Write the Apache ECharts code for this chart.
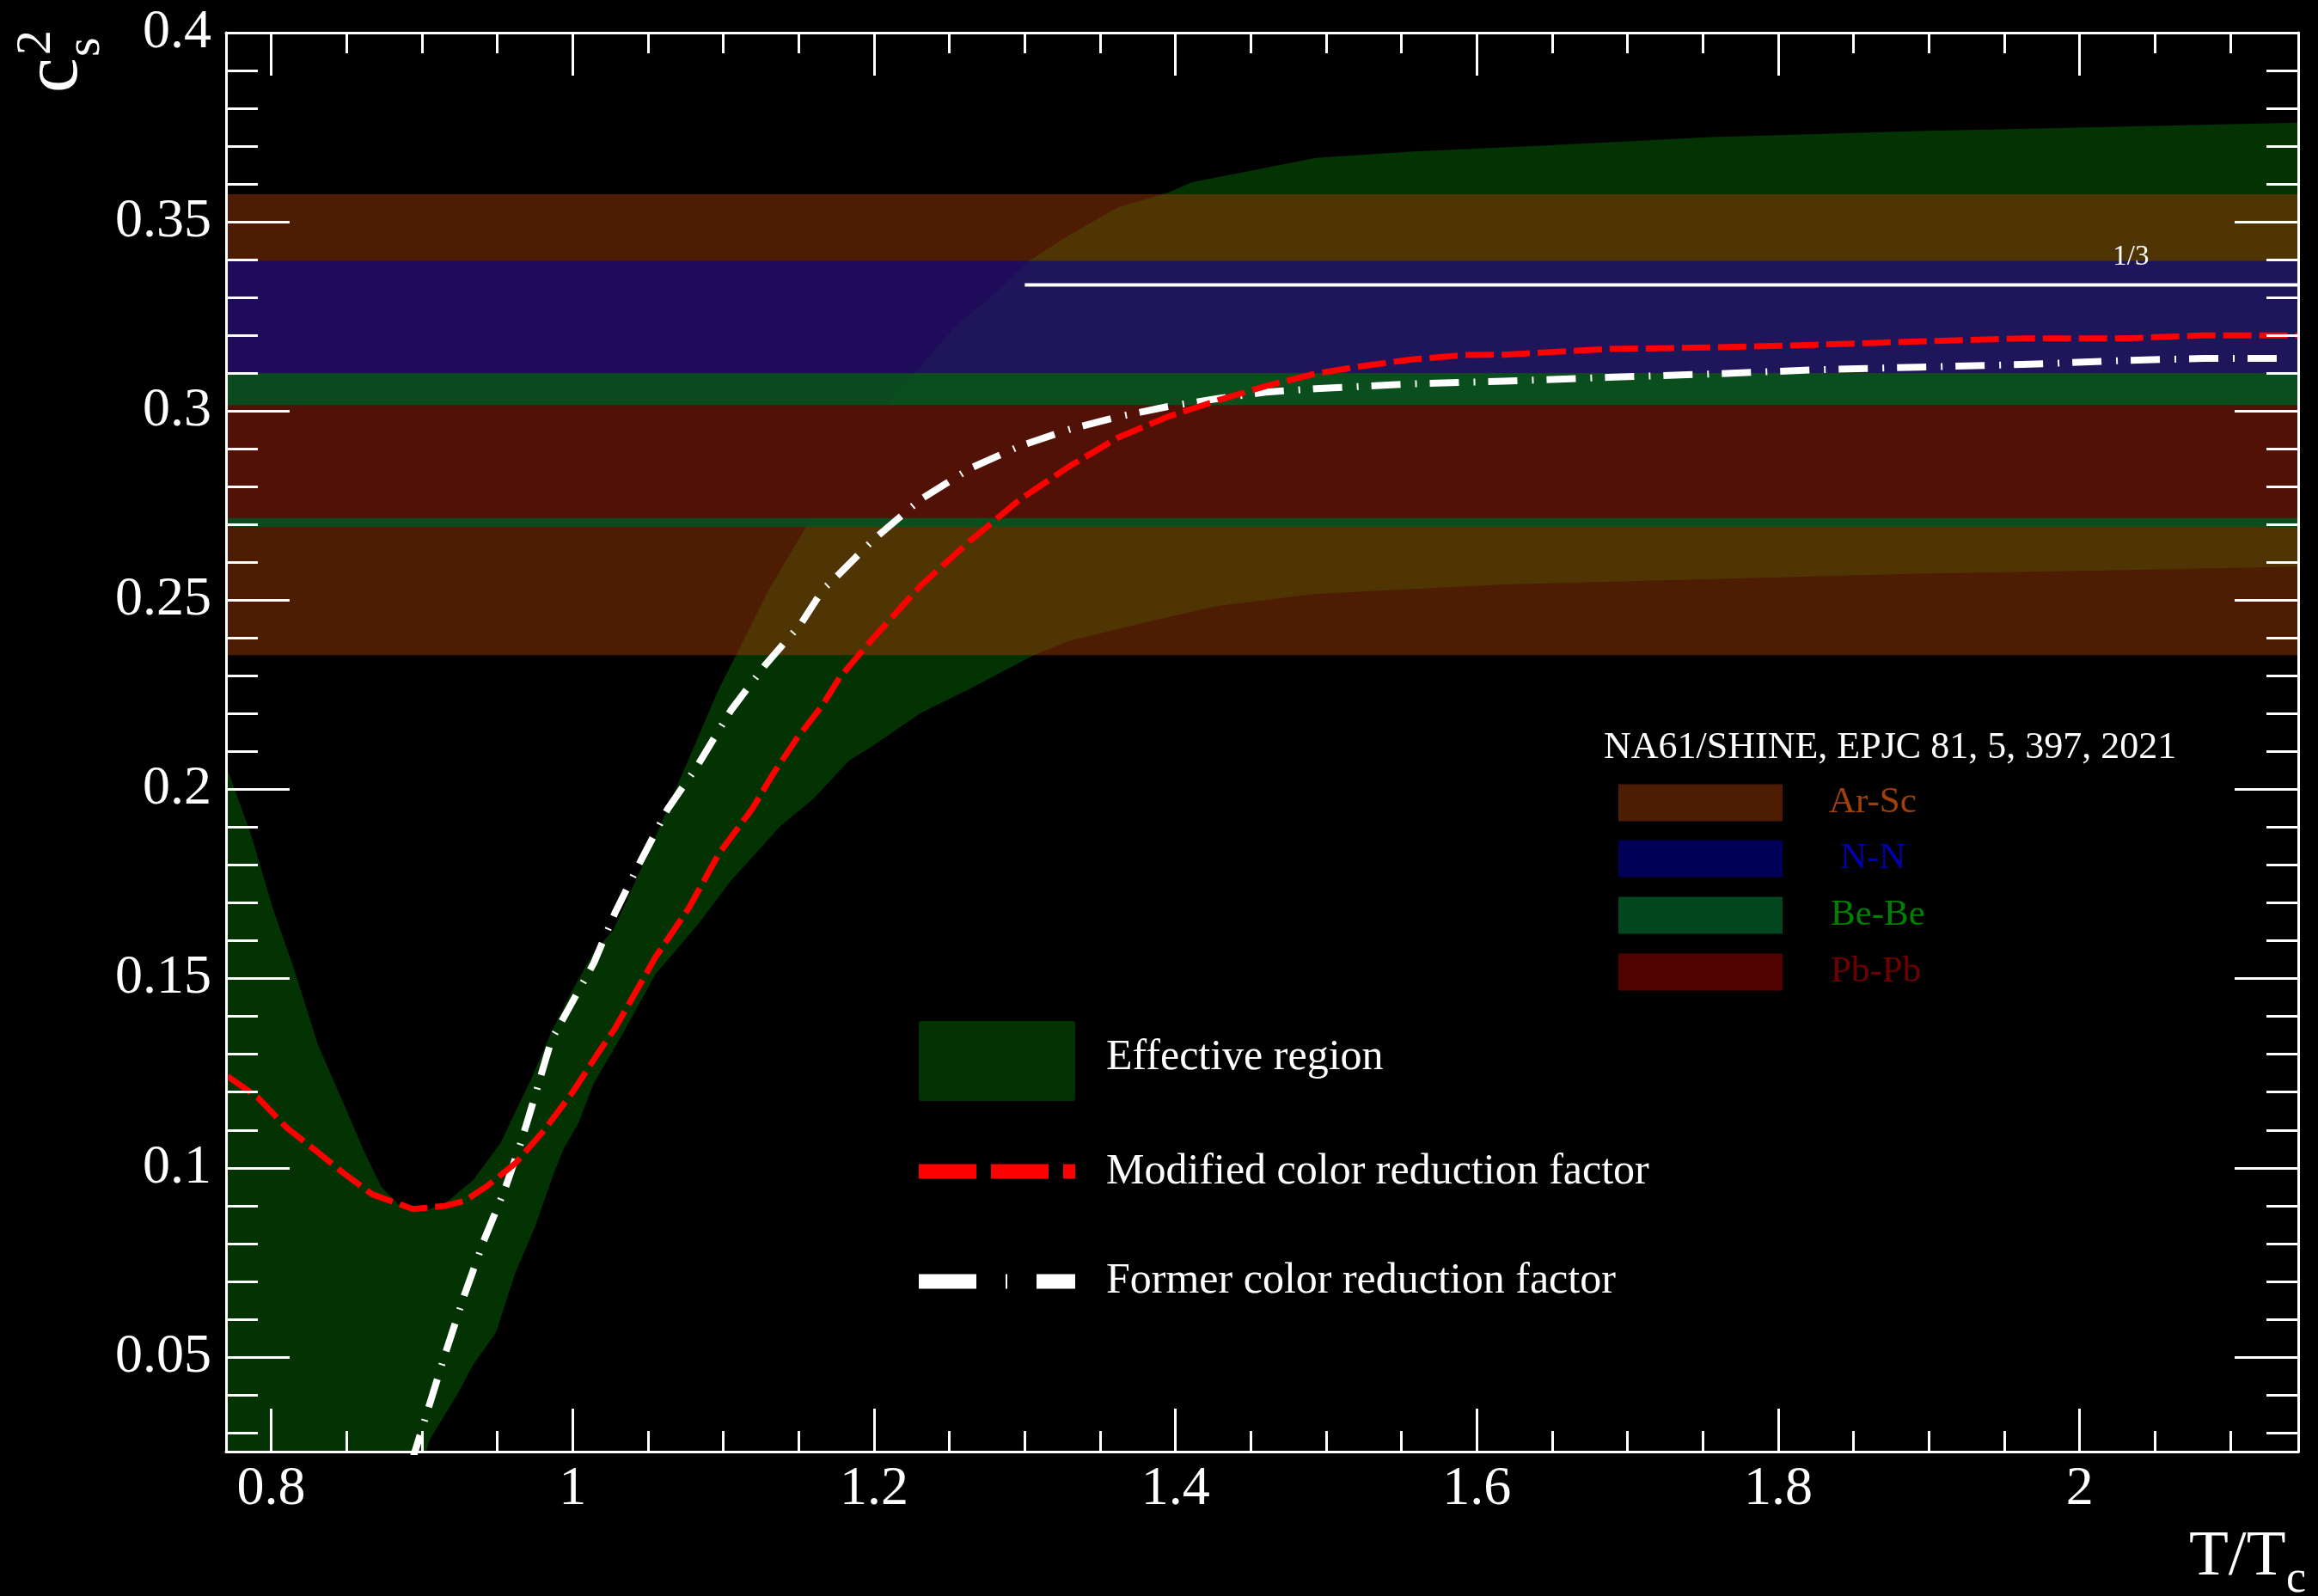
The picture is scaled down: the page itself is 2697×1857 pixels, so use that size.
<!DOCTYPE html>
<html>
<head>
<meta charset="utf-8">
<script src="https://cdn.jsdelivr.net/npm/echarts@6/dist/echarts.min.js"></script>
<style>
  html, body { margin: 0; padding: 0; background: #000; }
  #chart { width: 2697px; height: 1857px; }
</style>
</head>
<body>
<div id="chart"></div>
<script>
// Axis limits and tick steps
const tRange = [0.77, 2.145];
const cs2Range = [0.025, 0.4];
const tStep = 0.2;
const cs2Step = 0.05;

// Effective region: upper edge
const effUpperT = [0.770, 0.787, 0.801, 0.815, 0.831, 0.848, 0.862, 0.873, 0.884, 0.900, 0.915, 0.934,
  0.952, 0.964, 0.972, 0.986, 1.000, 1.014, 1.027, 1.055, 1.072, 1.097, 1.110, 1.130, 1.156, 1.172,
  1.190, 1.215, 1.228, 1.254, 1.280, 1.303, 1.329, 1.362, 1.395, 1.411, 1.460, 1.493, 1.558, 1.646,
  1.756, 1.893, 2.031, 2.145];
const effUpperCs2 = [0.2064, 0.1875, 0.1686, 0.1527, 0.1325, 0.1170, 0.1040, 0.0950, 0.0905, 0.0885, 0.0905, 0.0968,
  0.1064, 0.1165, 0.1230, 0.1360, 0.1470, 0.1570, 0.1628, 0.1875, 0.2034, 0.2266, 0.2368, 0.2527, 0.2702, 0.2800,
  0.2920, 0.3050, 0.3105, 0.3224, 0.3310, 0.3397, 0.3464, 0.3539, 0.3577, 0.3605, 0.3643, 0.3669, 0.3686, 0.3702,
  0.3724, 0.3740, 0.3752, 0.3762];

// Effective region: lower edge (runs below the frame for T < 0.9)
const effLowerT = [0.770, 0.899, 0.905, 0.909, 0.924, 0.934, 0.949, 0.962, 0.975, 0.987, 0.994, 1.004,
  1.014, 1.033, 1.055, 1.083, 1.105, 1.138, 1.160, 1.183, 1.199, 1.231, 1.264, 1.306, 1.329, 1.379,
  1.428, 1.493, 1.618, 1.756, 1.893, 2.031, 2.145];
const effLowerCs2 = [0.020, 0.020, 0.028, 0.0307, 0.0405, 0.0480, 0.0564, 0.0723, 0.0844, 0.0980, 0.1050, 0.1120,
  0.1223, 0.1353, 0.1512, 0.1643, 0.1759, 0.1904, 0.1976, 0.2075, 0.2115, 0.2202, 0.2267, 0.2355, 0.2392, 0.2441,
  0.2485, 0.2517, 0.2542, 0.2556, 0.2570, 0.2580, 0.2589];

// Modified color reduction factor
const modifiedT = [0.771, 0.791, 0.810, 0.829, 0.848, 0.867, 0.894, 0.915, 0.928, 0.943, 0.962, 0.981,
  1.000, 1.019, 1.028, 1.055, 1.077, 1.097, 1.119, 1.133, 1.149, 1.166, 1.177, 1.199, 1.231, 1.264,
  1.297, 1.330, 1.362, 1.395, 1.428, 1.460, 1.493, 1.526, 1.558, 1.591, 1.618, 1.687, 1.756, 1.824,
  1.893, 1.962, 2.031, 2.082, 2.145];
const modifiedCs2 = [0.1242, 0.1186, 0.1107, 0.1047, 0.0986, 0.0930, 0.0891, 0.0899, 0.0912, 0.0951, 0.1012, 0.1099,
  0.1200, 0.1316, 0.1368, 0.1557, 0.1686, 0.1830, 0.1948, 0.2041, 0.2136, 0.2224, 0.2295, 0.2398, 0.2539, 0.2658,
  0.2767, 0.2855, 0.2930, 0.2985, 0.3028, 0.3066, 0.3099, 0.3120, 0.3137, 0.3148, 0.3149, 0.3164, 0.3168, 0.3175,
  0.3184, 0.3192, 0.3192, 0.3200, 0.3200];

// Former color reduction factor
const formerT = [0.893, 0.915, 0.928, 0.941, 0.955, 0.966, 0.972, 0.986, 1.000, 1.014, 1.028, 1.044,
  1.063, 1.083, 1.105, 1.127, 1.152, 1.166, 1.177, 1.199, 1.231, 1.264, 1.297, 1.330, 1.362, 1.395,
  1.428, 1.460, 1.493, 1.526, 1.558, 1.618, 1.687, 1.756, 1.824, 1.893, 1.962, 2.031, 2.082, 2.138];
const formerCs2 = [0.0220, 0.0503, 0.0662, 0.0807, 0.0943, 0.1071, 0.1150, 0.1339, 0.1440, 0.1541, 0.1673, 0.1802,
  0.1948, 0.2064, 0.2209, 0.2325, 0.2441, 0.2528, 0.2570, 0.2658, 0.2767, 0.2849, 0.2908, 0.2952, 0.2985, 0.3012,
  0.3033, 0.3050, 0.3059, 0.3066, 0.3072, 0.3079, 0.3089, 0.3098, 0.3109, 0.3116, 0.3123, 0.3134, 0.3139, 0.3139];

// NA61/SHINE c_s^2 bands (drawn in this order)
const bandNames = ['Ar-Sc', 'N-N', 'Be-Be', 'Pb-Pb'];
const bandLow  = [0.2355, 0.3100, 0.2694, 0.2717];
const bandHigh = [0.3573, 0.3397, 0.3100, 0.3016];

// Conformal limit
const conformalT = [1.3, 2.145];
const conformalCs2 = [1 / 3, 1 / 3];

// Styles
const serif = '"Liberation Serif", "Times New Roman", serif';
const bandFill = ['rgba(154,56,4,0.5)', 'rgba(0,0,148,0.6)', 'rgba(0,82,35,0.85)', 'rgba(100,2,0,0.8)'];
const bandText = ['#a0400a', '#0000b0', '#008000', '#700000'];
const effFill = '#033303';

const zip = (xs, ys) => xs.map((x, i) => [x, ys[i]]);
const onStep = (v, step) => Math.abs(v / step - Math.round(v / step)) < 1e-6;

function makeX(position, labels) {
  return {
    type: 'value', position, min: tRange[0], max: tRange[1],
    minInterval: tStep, maxInterval: tStep, splitNumber: 7, z: 10,
    axisLine: { show: true, onZero: false, lineStyle: { color: '#fff', width: 3 } },
    axisTick: { show: true, inside: true, length: 50, lineStyle: { color: '#fff', width: 3 } },
    minorTick: { show: true, splitNumber: 4, length: 24, lineStyle: { color: '#fff', width: 3 } },
    splitLine: { show: false }, minorSplitLine: { show: false },
    axisLabel: {
      show: labels, margin: 12, color: '#fff', fontFamily: serif, fontSize: 64,
      formatter: v => onStep(v, tStep) ? String(+v.toFixed(3)) : ''
    }
  };
}
function makeY(position, labels) {
  return {
    type: 'value', position, min: cs2Range[0], max: cs2Range[1],
    minInterval: cs2Step, maxInterval: cs2Step, splitNumber: 8, z: 10,
    axisLine: { show: true, onZero: false, lineStyle: { color: '#fff', width: 3 } },
    axisTick: { show: true, inside: true, length: 74, lineStyle: { color: '#fff', width: 3 } },
    minorTick: { show: true, splitNumber: 5, length: 37, lineStyle: { color: '#fff', width: 3 } },
    splitLine: { show: false }, minorSplitLine: { show: false },
    axisLabel: {
      show: labels, margin: 17, color: '#fff', fontFamily: serif, fontSize: 64,
      formatter: v => onStep(v, cs2Step) ? String(+v.toFixed(3)) : ''
    }
  };
}

function text(str, x, y, size, color, align) {
  return {
    type: 'text', x, y, z: 30,
    style: {
      text: str, font: size + 'px ' + serif, fill: color,
      align: align || 'left', verticalAlign: 'middle',
      textAlign: align || 'left', textVerticalAlign: 'middle'
    }
  };
}

const chart = echarts.init(document.getElementById('chart'), null, { renderer: 'canvas' });

const option = {
  backgroundColor: '#000',
  animation: false,
  grid: { left: 263, right: 23, top: 38, bottom: 168, containLabel: false },
  xAxis: [makeX('bottom', true), makeX('top', false)],
  yAxis: [makeY('left', true), makeY('right', false)],
  series: [
    {
      type: 'custom', name: 'Effective region', clip: true, z: 2,
      data: [[effUpperT[0], effUpperCs2[0]]],
      renderItem: (params, api) => {
        const pts = effUpperT.map((t, i) => api.coord([t, effUpperCs2[i]]));
        for (let i = effLowerT.length - 1; i >= 0; i--) pts.push(api.coord([effLowerT[i], effLowerCs2[i]]));
        return { type: 'polygon', shape: { points: pts }, style: { fill: effFill } };
      }
    },
    {
      type: 'custom', name: 'NA61/SHINE', clip: true, z: 3,
      data: bandNames.map((n, i) => [(tRange[0] + tRange[1]) / 2, bandLow[i], bandHigh[i], i]),
      encode: { x: 0, y: [1, 2] },
      renderItem: (params, api) => {
        const i = api.value(3);
        const p0 = api.coord([tRange[0], api.value(2)]);
        const p1 = api.coord([tRange[1], api.value(1)]);
        return {
          type: 'rect',
          shape: { x: p0[0], y: p0[1], width: p1[0] - p0[0], height: p1[1] - p0[1] },
          style: { fill: bandFill[i] }
        };
      }
    },
    {
      type: 'line', name: '1/3', data: zip(conformalT, conformalCs2), z: 4,
      symbol: 'none', showSymbol: false, clip: true,
      lineStyle: { color: '#fff', width: 4 }
    },
    {
      type: 'line', name: 'Former color reduction factor', data: zip(formerT, formerCs2), z: 5,
      symbol: 'none', showSymbol: false, clip: true,
      lineStyle: { color: '#fff', width: 8, type: [34, 17, 2, 15], cap: 'butt', join: 'round' }
    },
    {
      type: 'line', name: 'Modified color reduction factor', data: zip(modifiedT, modifiedCs2), z: 6,
      symbol: 'none', showSymbol: false, clip: true,
      lineStyle: { color: '#ff0000', width: 7, type: [33, 9], cap: 'butt', join: 'round' }
    }
  ]
};
chart.setOption(option);

// Annotations, axis titles and legends
const oneThird = chart.convertToPixel({ gridIndex: 0 }, [2.034, 1 / 3]);
const graphics = [];
graphics.push(text('1/3', oneThird[0], oneThird[1] - 32, 33, '#fff', 'center'));

// x-axis title T/T_c
graphics.push(text('T/T', 2547, 1812, 75, '#fff', 'left'));
graphics.push(text('c', 2660, 1838, 52, '#fff', 'left'));

// y-axis title c_s^2, reading upward
graphics.push({
  type: 'group', x: 96, y: 108, rotation: Math.PI / 2, z: 30,
  children: [
    text('c', 0, -31, 92, '#fff', 'left'),
    text('2', 44, -53, 58, '#fff', 'left'),
    text('s', 42, 4, 58, '#fff', 'left')
  ]
});

// Legend: model curves
graphics.push({ type: 'rect', z: 30, shape: { x: 1069, y: 1188, width: 182, height: 93, r: 3 }, style: { fill: effFill } });
graphics.push(text('Effective region', 1287, 1231, 50, '#fff'));
graphics.push({ type: 'line', z: 30, shape: { x1: 1069, y1: 1363, x2: 1251, y2: 1363 },
  style: { stroke: '#ff0000', lineWidth: 17, lineDash: [67, 17], lineCap: 'butt' } });
graphics.push(text('Modified color reduction factor', 1287, 1364, 50, '#fff'));
graphics.push({ type: 'line', z: 30, shape: { x1: 1069, y1: 1491, x2: 1251, y2: 1491 },
  style: { stroke: '#fff', lineWidth: 17, lineDash: [67, 34, 2, 34], lineCap: 'butt' } });
graphics.push(text('Former color reduction factor', 1287, 1491, 50, '#fff'));

// Legend: NA61/SHINE bands
graphics.push(text('NA61/SHINE, EPJC 81, 5, 397, 2021', 1866, 870, 44, '#fff'));
const legendRowY = [934, 999, 1065, 1131];
const legendTextX = [2128, 2141, 2130, 2130];
bandNames.forEach((name, i) => {
  graphics.push({ type: 'rect', z: 30, shape: { x: 1883, y: legendRowY[i] - 21.5, width: 191, height: 43 },
    style: { fill: bandFill[i] } });
  graphics.push(text(name, legendTextX[i], legendRowY[i], 43, bandText[i]));
});

chart.setOption({ graphic: graphics });
</script>
</body>
</html>
